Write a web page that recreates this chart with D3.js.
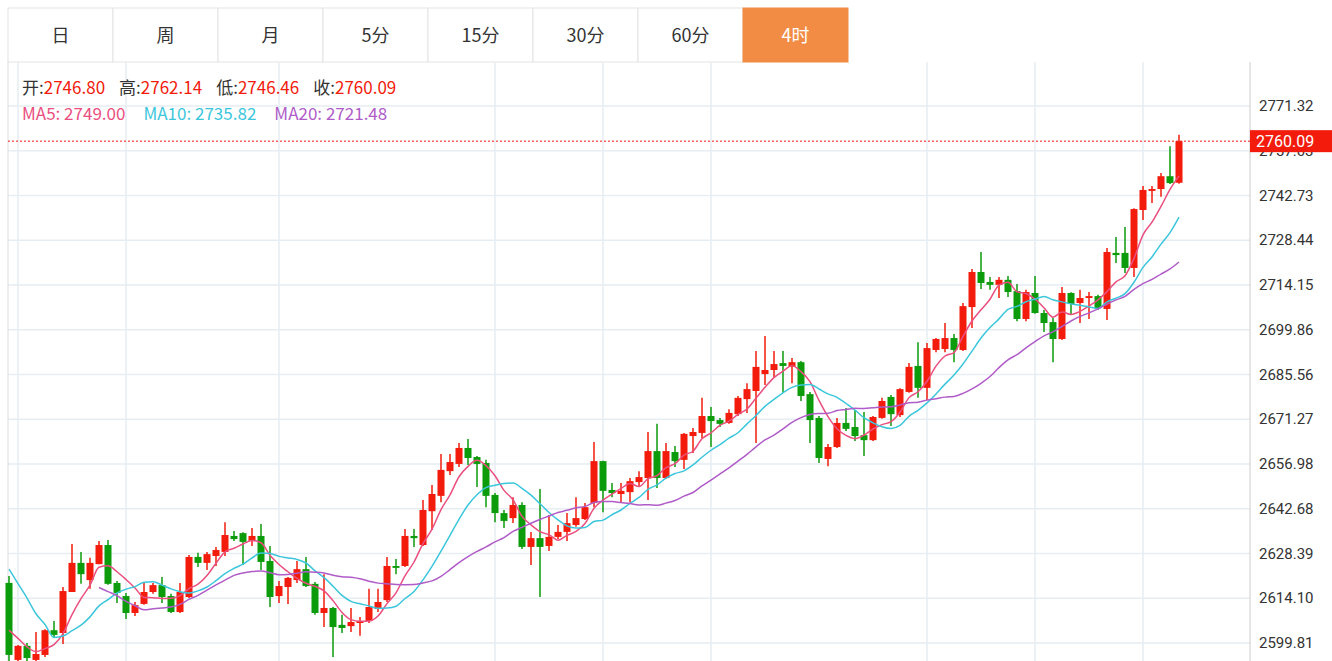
<!DOCTYPE html>
<html>
<head>
<meta charset="utf-8">
<script src="https://cdn.jsdelivr.net/npm/d3@7"></script>
<style>
  body { margin: 0; background: #fff; font-family: "Microsoft YaHei", "Noto Sans CJK SC", sans-serif; }
  #chart { position: relative; width: 1332px; height: 661px; overflow: hidden; }
</style>
</head>
<body>
<div id="chart"></div>
<script>
// period tabs
const tabs = ["日", "周", "月", "5分", "15分", "30分", "60分", "4时"];
const activeTab = "4时";

// closes before the visible window (only used for the moving averages)
const priorClose = [2645.2, 2641.0, 2646.5, 2638.3, 2643.5, 2612.0, 2608.5, 2604.0, 2599.0];

const open = [2619.0,2594.4,2598.9,2594.4,2596.0,2603.9,2603.0,2616.1,2625.4,2619.9,2625.0,2631.1,2619.0,2614.8,2609.4,2612.3,2616.1,2618.3,2614.8,2609.7,
  2614.5,2627.3,2625.4,2627.6,2628.9,2634.0,2634.9,2632.4,2634.0,2626.0,2614.8,2617.7,2619.9,2623.4,2618.7,2609.4,2611.0,2605.6,2605.2,2606.2,
  2606.8,2610.7,2613.5,2624.4,2624.4,2634.0,2631.1,2641.9,2646.8,2654.7,2657.0,2662.1,2659.2,2657.3,2647.1,2641.3,2639.7,2643.9,2630.5,2633.3,
  2630.8,2633.7,2635.3,2637.5,2639.4,2644.5,2657.9,2648.7,2647.4,2648.0,2651.2,2652.5,2661.1,2652.5,2660.8,2658.3,2665.9,2666.9,2672.3,2671.0,
  2670.1,2672.9,2677.7,2680.3,2685.7,2687.0,2689.2,2688.0,2689.5,2679.3,2671.7,2658.6,2662.4,2670.1,2668.8,2666.2,2664.6,2671.7,2678.4,2672.6,
  2680.0,2688.3,2681.3,2693.4,2693.7,2697.2,2693.4,2707.1,2718.3,2715.1,2714.2,2715.8,2712.2,2703.3,2711.6,2705.2,2702.3,2696.9,2711.6,2708.4,
  2710.0,2710.6,2706.5,2724.4,2724.4,2719.6,2738.1,2744.2,2744.8,2748.9,2746.80];
const high = [2621.2,2599.2,2599.8,2603.3,2604.2,2606.8,2617.7,2631.4,2628.9,2627.0,2632.4,2632.7,2619.6,2615.8,2612.9,2619.0,2619.0,2620.9,2615.5,2619.0,
  2627.9,2628.6,2628.9,2630.5,2638.4,2635.6,2635.2,2636.5,2637.8,2630.8,2619.6,2620.9,2626.0,2627.3,2619.3,2621.8,2611.3,2608.8,2611.0,2608.1,
  2617.1,2617.1,2627.3,2626.6,2636.2,2636.2,2645.5,2650.3,2660.2,2660.2,2663.7,2665.0,2659.5,2658.3,2647.7,2642.3,2646.4,2644.8,2635.3,2649.0,
  2640.7,2637.5,2641.3,2646.4,2644.5,2664.0,2658.0,2650.9,2650.9,2652.5,2654.7,2667.2,2669.8,2663.7,2662.7,2666.9,2668.5,2678.1,2675.2,2671.7,
  2674.5,2678.7,2682.8,2693.1,2697.9,2693.1,2693.1,2690.8,2689.9,2680.0,2672.3,2663.4,2671.7,2674.9,2674.2,2673.6,2672.3,2678.1,2679.0,2681.2,
  2689.2,2695.9,2695.6,2697.2,2702.0,2698.5,2708.4,2719.3,2724.7,2716.7,2716.7,2717.0,2714.5,2712.6,2717.0,2706.2,2703.6,2713.5,2711.8,2712.6,
  2711.9,2711.0,2726.0,2729.5,2732.7,2738.7,2745.8,2745.8,2749.9,2758.5,2762.14];
const low = [2594.1,2594.1,2594.1,2594.1,2595.3,2601.7,2599.5,2616.1,2618.7,2617.1,2625.0,2618.4,2612.6,2607.5,2608.4,2612.0,2615.5,2612.6,2609.4,2609.4,
  2614.2,2624.1,2623.1,2624.4,2627.6,2632.4,2624.7,2630.8,2623.1,2611.3,2612.6,2612.3,2619.0,2617.7,2608.8,2604.9,2595.3,2603.0,2603.3,2602.1,
  2606.2,2609.7,2612.9,2621.8,2624.1,2630.5,2630.8,2635.9,2644.8,2653.5,2656.0,2656.7,2649.6,2643.2,2638.4,2636.5,2638.1,2629.8,2624.7,2614.5,
  2629.2,2633.0,2632.4,2636.9,2639.1,2643.2,2641.6,2646.4,2644.8,2644.8,2649.6,2645.5,2649.3,2652.2,2656.0,2655.4,2660.5,2665.3,2662.4,2668.8,
  2669.8,2672.3,2673.3,2663.7,2682.2,2684.8,2679.7,2682.8,2677.1,2663.7,2657.3,2656.3,2662.1,2667.5,2664.3,2659.5,2664.3,2671.4,2669.1,2672.0,
  2679.7,2678.1,2677.4,2692.7,2692.7,2689.5,2693.1,2700.4,2712.9,2712.6,2710.0,2710.3,2702.6,2702.6,2705.0,2699.1,2689.5,2696.6,2704.6,2702.0,
  2703.3,2706.2,2703.0,2721.2,2718.0,2716.7,2734.9,2740.3,2742.3,2746.4,2746.46];
const close = [2596.0,2598.9,2595.0,2596.3,2603.9,2602.4,2616.4,2625.4,2621.8,2625.4,2631.1,2618.7,2615.8,2609.4,2611.9,2616.1,2618.3,2614.5,2609.7,2616.1,
  2627.3,2625.4,2628.2,2629.5,2634.3,2633.0,2632.1,2634.0,2625.7,2614.5,2618.0,2620.6,2623.4,2618.0,2609.4,2611.0,2604.9,2604.6,2606.5,2606.8,
  2611.3,2612.9,2624.4,2623.8,2634.0,2633.3,2642.3,2647.4,2655.1,2657.6,2662.1,2658.9,2657.0,2646.8,2641.3,2638.8,2643.9,2630.5,2633.3,2630.5,
  2633.7,2635.3,2638.1,2639.7,2643.2,2657.9,2648.4,2647.7,2648.4,2651.5,2652.8,2661.1,2652.5,2661.1,2657.9,2666.6,2667.2,2672.3,2670.7,2669.8,
  2673.3,2678.1,2680.9,2688.0,2687.0,2688.9,2688.3,2689.5,2678.7,2671.0,2658.9,2662.4,2670.1,2668.2,2665.9,2664.6,2672.0,2677.1,2672.9,2680.9,
  2688.0,2681.3,2694.0,2696.9,2697.2,2693.4,2707.4,2718.3,2714.8,2714.2,2715.8,2711.9,2703.3,2711.9,2705.2,2702.0,2696.9,2711.6,2708.1,2710.0,
  2710.6,2706.8,2724.7,2723.7,2719.6,2738.4,2744.5,2744.8,2748.9,2746.7,2760.09];

// price axis ticks
const priceTicks = [2599.81, 2614.10, 2628.39, 2642.68, 2656.98, 2671.27, 2685.56, 2699.86, 2714.15, 2728.44, 2742.73, 2757.03, 2771.32];
// candles where a vertical grid line sits
const vGridAt = [1, 13, 30, 54, 66, 78, 102, 114, 126];

const maPeriods = [5, 10, 20];
const maColors = ["#ea4f7f", "#3cc6dc", "#b05cc8"];
const upColor = "#f21b0c", downColor = "#0b9b0b";

const W = 1332, H = 661;
const plotLeft = 8, plotRight = 1250, plotTop = 62;

const allClose = priorClose.concat(close);
function movingAvg(n) {
  return close.map((c, i) => {
    const j = i + priorClose.length;
    if (j + 1 < n) return null;
    return d3.mean(allClose.slice(j + 1 - n, j + 1));
  });
}

const svg = d3.select("#chart").append("svg").attr("width", W).attr("height", H);

const x = d3.scaleLinear().domain([0, close.length - 1]).range([9, 1179]);
const y = d3.scaleLinear().domain([2599.81, 2771.32]).range([643, 106]);

// tabs
const tabW = 105;
const tg = svg.append("g").selectAll("g").data(tabs).enter().append("g")
  .attr("transform", (d, i) => `translate(${plotLeft + i * tabW},8)`);
tg.append("rect").attr("width", tabW).attr("height", 54)
  .attr("fill", d => d === activeTab ? "#f28c45" : "#fff")
  .attr("stroke", d => d === activeTab ? "#f28c45" : "#e3e3e3");
tg.append("text").attr("x", tabW / 2).attr("y", 34).attr("text-anchor", "middle")
  .attr("font-size", 18).attr("fill", d => d === activeTab ? "#fff" : "#333").text(d => d);

// grid
const grid = svg.append("g");
grid.selectAll(".h").data(priceTicks).enter().append("line")
  .attr("x1", plotLeft).attr("x2", plotRight).attr("y1", d => y(d)).attr("y2", d => y(d))
  .attr("stroke", "#e6edf3").attr("stroke-width", 1.5);
grid.selectAll(".v").data(vGridAt).enter().append("line")
  .attr("x1", d => x(d)).attr("x2", d => x(d)).attr("y1", plotTop).attr("y2", H)
  .attr("stroke", "#e6edf3").attr("stroke-width", 1.5);
svg.append("line").attr("x1", plotLeft).attr("x2", plotLeft).attr("y1", plotTop).attr("y2", H).attr("stroke", "#ddd");
svg.append("line").attr("x1", plotRight).attr("x2", plotRight).attr("y1", plotTop).attr("y2", H).attr("stroke", "#ccc");

// price labels
svg.append("g").selectAll("text").data(priceTicks).enter().append("text")
  .attr("x", 1259).attr("y", d => y(d) + 5).attr("font-size", 15).attr("fill", "#333")
  .attr("font-family", "Roboto, sans-serif").text(d => d.toFixed(2));

// candles
const idx = d3.range(close.length);
const cg = svg.append("g").selectAll("g").data(idx).enter().append("g");
cg.append("line").attr("x1", i => x(i)).attr("x2", i => x(i))
  .attr("y1", i => y(high[i])).attr("y2", i => y(low[i]))
  .attr("stroke", i => close[i] >= open[i] ? upColor : downColor).attr("stroke-width", 1.5);
cg.append("rect").attr("x", i => x(i) - 3.5).attr("width", 7)
  .attr("y", i => y(Math.max(open[i], close[i])))
  .attr("height", i => Math.max(1.5, Math.abs(y(open[i]) - y(close[i]))))
  .attr("fill", i => close[i] >= open[i] ? upColor : downColor);

// moving averages
maPeriods.forEach((n, k) => {
  const ma = movingAvg(n);
  const line = d3.line().defined(i => ma[i] != null).x(i => x(i)).y(i => y(ma[i])).curve(d3.curveMonotoneX);
  svg.append("path").datum(idx).attr("d", line).attr("fill", "none")
    .attr("stroke", maColors[k]).attr("stroke-width", 1.5);
});

// last price line + tag
const last = close[close.length - 1];
svg.append("line").attr("x1", plotLeft).attr("x2", plotRight).attr("y1", y(last)).attr("y2", y(last))
  .attr("stroke", upColor).attr("stroke-dasharray", "2,2");
svg.append("rect").attr("x", plotRight).attr("y", y(last) - 11).attr("width", W - plotRight).attr("height", 22).attr("fill", upColor);
svg.append("text").attr("x", 1256).attr("y", y(last) + 6).attr("font-size", 16).attr("fill", "#fff")
  .attr("font-family", "Roboto, sans-serif").text(last.toFixed(2));

// header info
const nLast = close.length - 1;
const info = svg.append("text").attr("x", 22).attr("y", 94).attr("font-size", 17);
[["开", open[nLast]], ["高", high[nLast]], ["低", low[nLast]], ["收", close[nLast]]].forEach(([k, v], i) => {
  info.append("tspan").attr("fill", "#333").attr("dx", i ? 14 : 0).text(k + ":");
  info.append("tspan").attr("fill", upColor).text(v.toFixed(2));
});
const maInfo = svg.append("text").attr("x", 22).attr("y", 120).attr("font-size", 17);
maPeriods.forEach((p, k) => {
  const ma = movingAvg(p);
  maInfo.append("tspan").attr("fill", maColors[k]).attr("dx", k ? 18 : 0)
    .text(`MA${p}:  ${ma[nLast].toFixed(2)}`);
});
</script>
</body>
</html>
